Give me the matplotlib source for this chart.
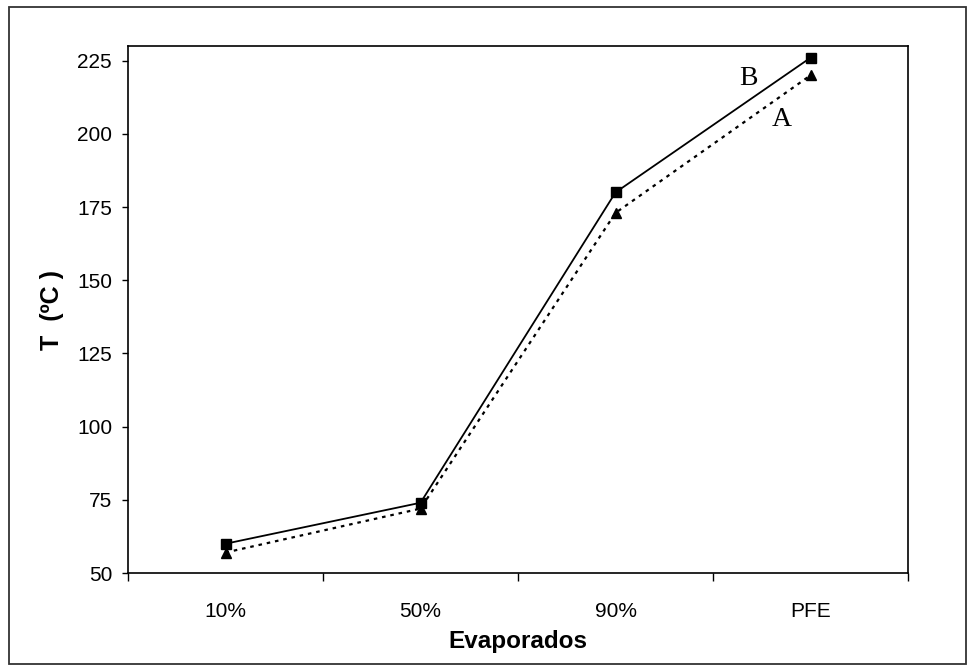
import matplotlib
matplotlib.use("Agg")
import matplotlib.pyplot as plt
from matplotlib.patches import Rectangle

# Temperaturas de destilação (ºC) por fração evaporada
categorias = ["10%", "50%", "90%", "PFE"]
temp_b = [60, 74, 180, 226]
temp_a = [57, 72, 173, 220]
yticks = [50, 75, 100, 125, 150, 175, 200, 225]

plt.rcParams['font.family'] = ['Liberation Sans', 'DejaVu Sans']

fig = plt.figure(figsize=(9.73, 6.68), dpi=100)
ax = fig.add_axes([0.1316, 0.1422, 0.8016, 0.7889])

x = list(range(len(categorias)))

# Série B: linha contínua com quadrados
ax.plot(x, temp_b, color='black', linewidth=1.3, marker='s', markersize=7,
        zorder=3)
# Série A: linha pontilhada com triângulos
ax.plot(x, temp_a, color='black', linewidth=1.6, linestyle=(0, (1.6, 2.2)),
        marker='^', markersize=7, zorder=3)

ax.text(2.68, 219, "B", fontsize=20, family='Liberation Serif',
        ha='center', va='center')
ax.text(2.85, 205, "A", fontsize=20, family='Liberation Serif',
        ha='center', va='center')

ax.set_xlim(-0.5, 3.5)
ax.set_ylim(50, 230)
ax.set_yticks(yticks)
ax.set_yticklabels([str(v) for v in yticks], fontsize=15)

# Rótulos das categorias no centro, marcas entre categorias
ax.set_xticks([i - 0.5 for i in range(len(categorias) + 1)])
ax.set_xticklabels([])
ax.set_xticks(x, minor=True)
ax.set_xticklabels(categorias, minor=True, fontsize=15)
ax.tick_params(axis='x', which='minor', length=0, pad=21)
ax.tick_params(axis='x', which='major', direction='out', length=6, width=1)
ax.tick_params(axis='y', direction='out', length=4.5, width=1, pad=7)

for s in ax.spines.values():
    s.set_linewidth(1.2)

ax.set_xlabel("Evaporados", fontsize=17.5, fontweight='bold', labelpad=6)
ax.set_ylabel("T  (ºC )", fontsize=18, fontweight='bold', labelpad=9)

# Moldura externa do gráfico
fig.patches.append(Rectangle((9 / 973, 4 / 668), 957 / 973, 657 / 668,
                             transform=fig.transFigure, fill=False,
                             edgecolor='#333333', linewidth=1.3))

fig.savefig("out.png", dpi=100)
